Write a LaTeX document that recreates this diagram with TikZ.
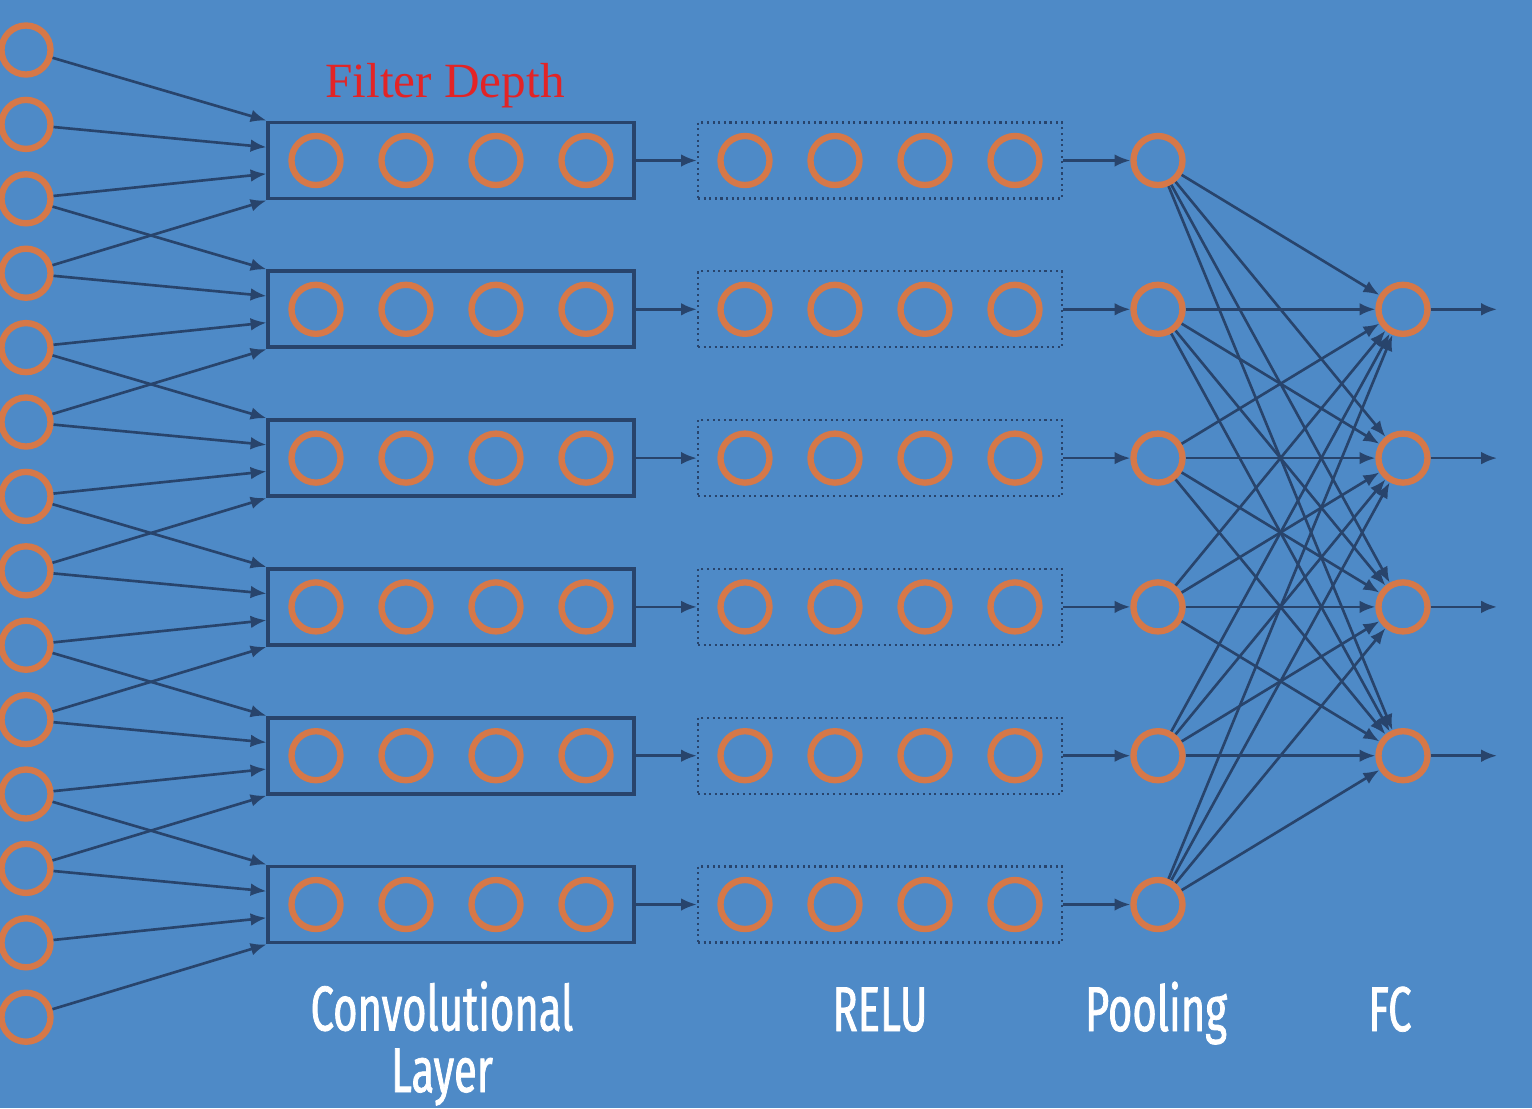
\documentclass[tikz,border=0pt]{standalone}
\usepackage{fontspec}
\usetikzlibrary{arrows.meta,calc}
\newfontfamily\labelfont[FakeStretch=0.66,FakeBold=1.2]{Fira Sans}
\newfontfamily\depthfont{Liberation Serif}
\definecolor{bgblue}{RGB}{78,138,199}
\definecolor{ringorange}{RGB}{214,120,72}
\definecolor{wiredark}{RGB}{40,68,108}
\definecolor{depthred}{RGB}{226,36,38}

\tikzset{
  neuron/.style={circle, draw=ringorange, line width=1.8pt, minimum size=0.49cm, inner sep=0pt},
  convbox/.style={draw=wiredark, line width=1.1pt, minimum width=3.65cm, minimum height=0.76cm, inner sep=0pt},
  relubox/.style={draw=wiredark, densely dotted, line width=0.6pt, minimum width=3.64cm, minimum height=0.76cm, inner sep=0pt},
  wire/.style={draw=wiredark, line width=0.75pt, -{Latex[length=4.5pt,width=3.6pt]}},
  layerlabel/.style={text=white, font=\labelfont\fontsize{18}{17.5}\selectfont, align=center},
}

\begin{document}
\begin{tikzpicture}[x=0.01cm, y=-0.01cm]
% background
\fill[bgblue] (0,0) rectangle (1532,1108);
\useasboundingbox (0,0) rectangle (1532,1108);

% input neurons
\foreach \i in {0,...,13}
  \node[neuron] (in\i) at (26, 50+74.4*\i) {};

% filter rows: conv, relu, pooling
\foreach \k in {0,...,5} {
  \node[convbox] (conv\k) at (451, 160.5+148.8*\k) {};
  \node[relubox] (relu\k) at (880, 160.5+148.8*\k) {};
  \foreach \j in {0,...,3} {
    \node[neuron] (cv\k\j) at (316+90*\j, 160.5+148.8*\k) {};
    \node[neuron] (rl\k\j) at (745+90*\j, 160.5+148.8*\k) {};
  }
  \node[neuron] (pool\k) at (1158, 160.5+148.8*\k) {};
  \draw[wire] (conv\k.east) -- (relu\k.west);
  \draw[wire] (relu\k.east) -- (pool\k);
  % four inputs per filter
  \foreach \j in {0,...,3} {
    \pgfmathtruncatemacro{\src}{2*\k+\j}
    \coordinate (tap\k\j) at ($(conv\k.north west)!\j/3!(conv\k.south west)$);
    \draw[wire] (in\src) -- (tap\k\j);
  }
}

% fully connected
\foreach \m in {1,...,4} {
  \node[neuron] (fc\m) at (1403, 160.5+148.8*\m) {};
  \coordinate (out\m) at (1497, 160.5+148.8*\m);
  \draw[wire] (fc\m) -- (out\m);
  \foreach \k in {0,...,5}
    \draw[wire] (pool\k) -- (fc\m);
}

% labels
\node[text=depthred, font=\depthfont\fontsize{14}{16}\selectfont, anchor=base] (depth) at (445, 97) {Filter Depth};
\node[layerlabel, anchor=base] (convlbl) at (442, 1092) {Convolutional\\Layer};
\node[layerlabel, anchor=base] (relulbl) at (880, 1031) {RELU};
\node[layerlabel, anchor=base] (poollbl) at (1156, 1031) {Pooling};
\node[layerlabel, anchor=base] (fclbl) at (1390, 1031) {FC};
\end{tikzpicture}
\end{document}
